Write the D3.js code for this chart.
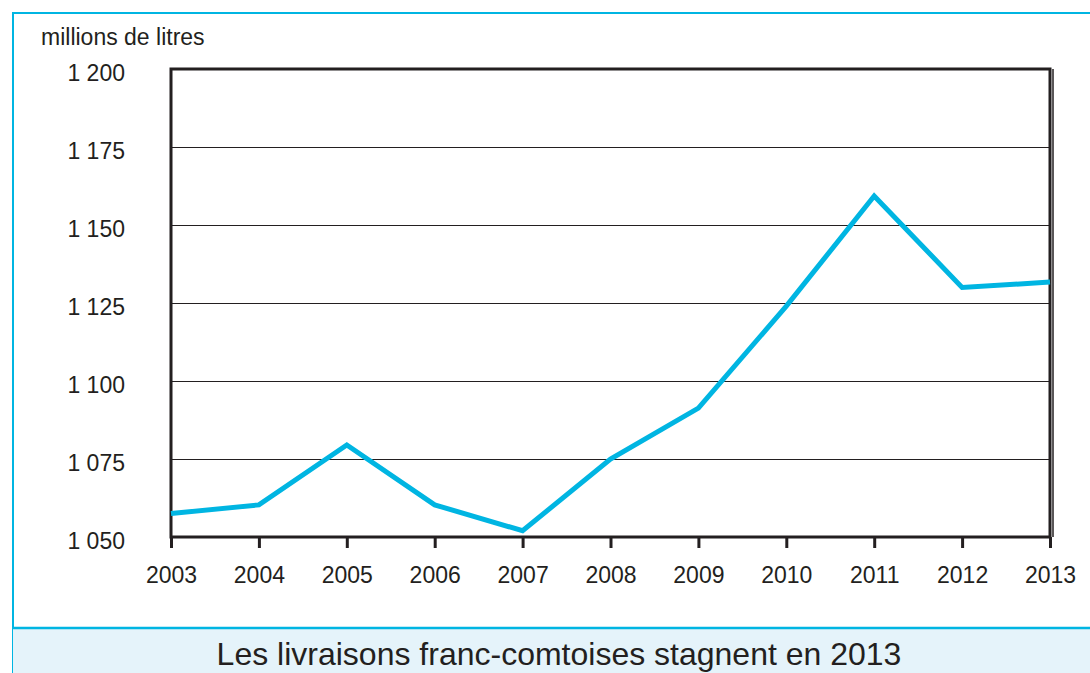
<!DOCTYPE html>
<html>
<head>
<meta charset="utf-8">
<script src="https://cdn.jsdelivr.net/npm/d3@7"></script>
<style>
  body { margin: 0; background: #fff; }
  svg { display: block; font-family: "Liberation Sans", Arial, sans-serif; }
</style>
</head>
<body>
<svg id="chart"></svg>
<script>
// Data
const years = [2003, 2004, 2005, 2006, 2007, 2008, 2009, 2010, 2011, 2012, 2013]
const livraisons = [1057.5, 1060.3, 1079.5, 1060.3, 1052, 1075, 1091.3, 1124, 1159.3, 1130, 1131.7]
const yTicks = [1050, 1075, 1100, 1125, 1150, 1175, 1200]
const unitLabel = "millions de litres"
const caption = "Les livraisons franc-comtoises stagnent en 2013"

var svgWidth = 1090, svgHeight = 673
var plotLeft = 171, plotRight = 1050, plotTop = 69, plotBottom = 537
var cyan = "#00b5e2"
var ink = "#231f20"

var svg = d3.select('#chart')
    .attr("width", svgWidth)
    .attr("height", svgHeight)

// outer frame
svg.append("path")
    .attr("d", "M1090,13 H13 V673")
    .attr("fill", "none")
    .attr("stroke", cyan)
    .attr("stroke-width", 2)

// caption box
svg.append("rect")
    .attr("x", 13).attr("y", 628)
    .attr("width", 1077).attr("height", 45)
    .attr("fill", "#e5f3fa")
svg.append("line")
    .attr("x1", 13).attr("x2", 1090)
    .attr("y1", 628).attr("y2", 628)
    .attr("stroke", cyan).attr("stroke-width", 2.5)
svg.append("text")
    .attr("x", 559).attr("y", 665)
    .attr("text-anchor", "middle")
    .attr("font-size", 32)
    .attr("fill", ink)
    .text(caption)

// scales
var x = d3.scalePoint().domain(years).range([plotLeft, plotRight])
var y = d3.scaleLinear().domain([1050, 1200]).range([plotBottom, plotTop])

// grid
svg.append("g")
    .selectAll("line")
    .data(yTicks.slice(1, -1))
    .enter()
    .append("line")
    .attr("x1", plotLeft).attr("x2", plotRight)
    .attr("y1", (d) => Math.round(y(d)) + 0.5).attr("y2", (d) => Math.round(y(d)) + 0.5)
    .attr("stroke", ink)
    .attr("stroke-width", 1)

// y labels
svg.append("g")
    .selectAll("text")
    .data(yTicks)
    .enter()
    .append("text")
    .attr("x", 125)
    .attr("y", (d) => y(d) + 12)
    .attr("text-anchor", "end")
    .attr("font-size", 23)
    .attr("fill", ink)
    .text((d) => d3.format(",")(d).replace(",", " "))

svg.append("text")
    .attr("x", 41).attr("y", 45)
    .attr("font-size", 23)
    .attr("fill", ink)
    .text(unitLabel)

// x axis ticks + labels
var xAxis = d3.axisBottom(x).tickSize(11).tickPadding(19)
var gx = svg.append("g")
    .attr("transform", "translate(0," + plotBottom + ")")
    .call(xAxis)
gx.select(".domain").remove()
gx.selectAll("line").attr("stroke", ink).attr("stroke-width", 3)
gx.selectAll("text")
    .attr("font-size", 23)
    .attr("font-family", "Liberation Sans, Arial, sans-serif")
    .attr("fill", ink)

// plot frame
svg.append("rect")
    .attr("x", plotLeft).attr("y", plotTop)
    .attr("width", plotRight - plotLeft).attr("height", plotBottom - plotTop)
    .attr("fill", "none")
    .attr("stroke", ink)
    .attr("stroke-width", 3)
svg.append("line")
    .attr("x1", plotRight + 3).attr("x2", plotRight + 3)
    .attr("y1", plotTop).attr("y2", plotBottom)
    .attr("stroke", ink).attr("stroke-width", 1.5)

// line
var line = d3.line()
    .x((d, i) => x(years[i]))
    .y((d) => y(d))

svg.append("path")
    .datum(livraisons)
    .attr("d", line)
    .attr("fill", "none")
    .attr("stroke", cyan)
    .attr("stroke-width", 5)
    .attr("stroke-linejoin", "miter")
</script>
</body>
</html>
